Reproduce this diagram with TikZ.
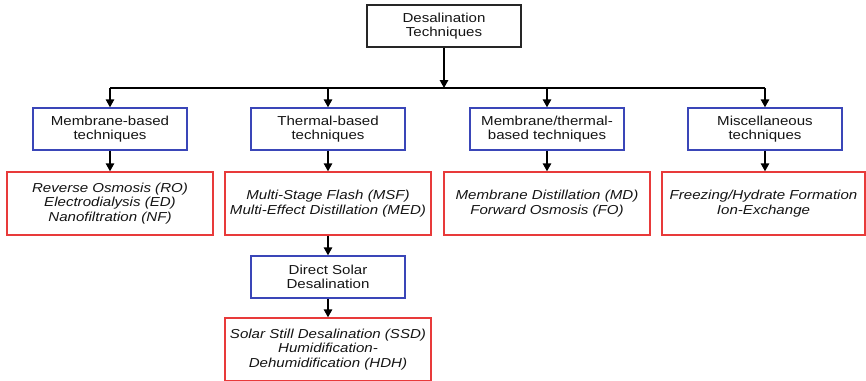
\documentclass[tikz,border=0pt]{standalone}
\usepackage{fontspec}
\setmainfont{Liberation Sans}[FakeStretch=1.16]
\usetikzlibrary{arrows.meta}
\definecolor{bluebox}{HTML}{3A46B8}
\definecolor{redbox}{HTML}{E83A3A}
\definecolor{txt}{HTML}{141414}
\tikzset{
  base/.style={draw, line width=1.4pt, align=center, inner sep=0pt, text=txt,
    font=\fontsize{13}{14.5}\selectfont},
  topbox/.style={base, draw=black!85, minimum width=154pt, minimum height=42pt},
  catbox/.style={base, draw=bluebox, minimum width=154pt, minimum height=42pt},
  listbox/.style={base, draw=redbox, minimum width=206pt, minimum height=63pt,
    font=\fontsize{13}{14.5}\selectfont\itshape},
  conn/.style={line width=1.4pt, draw=black},
  arr/.style={conn, -{Triangle[length=8pt,width=8.5pt]}}
}
\begin{document}
\begin{tikzpicture}[x=1pt,y=-1pt]
\useasboundingbox (0,0) rectangle (866,380);
\node[topbox] (top) at (444,26) {Desalination\\Techniques};
\coordinate (bar) at (444,88);
\node[catbox] (b1) at (110,129) {Membrane-based\\techniques};
\node[catbox] (b2) at (328,129) {Thermal-based\\techniques};
\node[catbox] (b3) at (547,129) {Membrane/thermal-\\based techniques};
\node[catbox] (b4) at (765,129) {Miscellaneous\\techniques};
\node[listbox] (r1) at (110,203.5) {Reverse Osmosis (RO)\\Electrodialysis (ED)\\Nanofiltration (NF)};
\node[listbox] (r2) at (328,203.5) {Multi-Stage Flash (MSF)\\Multi-Effect Distillation (MED)};
\node[listbox] (r3) at (547,203.5) {Membrane Distillation (MD)\\Forward Osmosis (FO)};
\node[listbox, minimum width=203pt] (r4) at (763.5,203.5) {Freezing/Hydrate Formation\\Ion-Exchange};
\node[catbox] (ds) at (328,277) {Direct Solar\\Desalination};
\node[listbox] (r5) at (328,349.5) {Solar Still Desalination (SSD)\\Humidification-\\Dehumidification (HDH)};
\draw[arr] (top.south) -- (bar);
\draw[conn] (b1.north |- bar) -- (b4.north |- bar);
\foreach \b in {b1,b2,b3,b4} {
  \draw[arr] (\b.north |- bar) -- (\b.north);
}
\draw[arr] (b1.south) -- (r1.north);
\draw[arr] (b2.south) -- (r2.north);
\draw[arr] (b3.south) -- (r3.north);
\draw[arr] (b4.south) -- (b4.south |- r4.north);
\draw[arr] (r2.south) -- (ds.north);
\draw[arr] (ds.south) -- (r5.north);
\end{tikzpicture}
\end{document}
